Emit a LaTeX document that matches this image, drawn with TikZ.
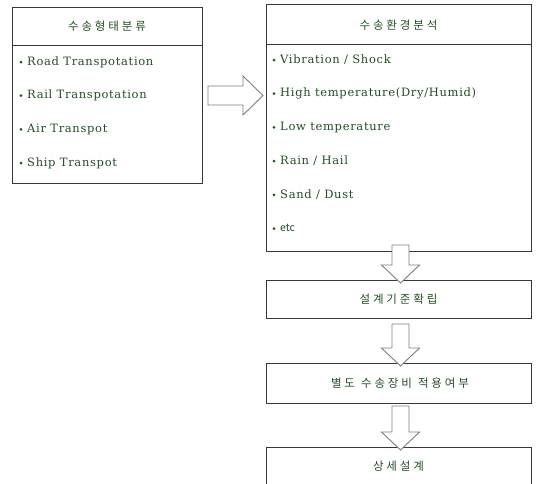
\documentclass[tikz,border=0pt]{standalone}
\usepackage{fontspec}
\setmainfont[LetterSpace=6]{DejaVu Serif}
\newfontfamily\kr[LetterSpace=25]{Noto Sans CJK KR}
\newfontfamily\krplain{Noto Sans CJK KR}
\usetikzlibrary{calc}
\definecolor{txtgreen}{RGB}{36,78,36}
\definecolor{arrowgray}{RGB}{125,125,125}
\definecolor{boxline}{RGB}{55,55,55}
\newcommand\blockdown[3]{% source, target, top offset (px, + = down from source bottom)
  \draw[blockarrow] let \p1=($(#1.south)+(1.5,#3)$), \p2=($(#2.north)+(1.5,3)$) in
    (\x1-8.5pt,\y1) -- (\x1-8.5pt,\y2+18pt) -- (\x1-19pt,\y2+18pt) -- (\x2,\y2)
    -- (\x1+19pt,\y2+18pt) -- (\x1+8.5pt,\y2+18pt) -- (\x1+8.5pt,\y1) -- cycle;}
\begin{document}
\begin{tikzpicture}[x=1pt,y=-1pt,
  box/.style={draw=boxline,line width=1pt,fill=white,rectangle,anchor=north west,inner sep=0pt},
  item/.style={anchor=west,inner sep=0pt,text=txtgreen,text height=8.5pt,text depth=2pt,font=\fontsize{11.5}{13}\selectfont},
  title/.style={inner sep=0pt,text=txtgreen,font=\kr\fontsize{11.5}{13}\selectfont},
  blockarrow/.style={draw=arrowgray,line width=0.9pt,fill=white,line join=miter},
  dot/.style={circle,fill=txtgreen,inner sep=0pt,minimum size=3pt}]
\useasboundingbox (0,0) rectangle (538,483);
\clip (0,0) rectangle (538,483);
\fill[white] (0,0) rectangle (538,483);

% left box
\node[box,minimum width=190pt,minimum height=176pt] (L) at (12,7) {};
\draw[boxline,line width=1pt] ($(L.north west)+(0,38)$) coordinate (Lh1) -- ($(L.north east)+(0,38)$) coordinate (Lh2);
\node[title] (Lt) at (107,26) {수송형태분류};
\foreach \t [count=\i] in {Road Transpotation,Rail Transpotation,Air Transpot,Ship Transpot}{
  \node[dot] (Ld\i) at (21,{62+33.7*(\i-1)}) {};
  \node[item] (Li\i) at (27,{62+33.7*(\i-1)}) {\t};
}

% main right box
\node[box,minimum width=265pt,minimum height=247pt] (M) at (266,4) {};
\draw[boxline,line width=1pt] ($(M.north west)+(0,40)$) coordinate (Mh1) -- ($(M.north east)+(0,40)$) coordinate (Mh2);
\node[title] (Mt) at (398.5,25) {수송환경분석};
\foreach \t [count=\i] in {Vibration / Shock,High temperature(Dry/Humid),Low temperature,Rain / Hail,Sand / Dust}{
  \node[dot] (Md\i) at (274,{60+33.7*(\i-1)}) {};
  \node[item] (Mi\i) at (280,{60+33.7*(\i-1)}) {\t};
}
\node[dot] (Md6) at (274,228.5) {};
\node[item,font=\krplain\fontsize{10.5}{11}\selectfont] (Mi6) at (280,228.5) {etc};

% process boxes
\node[box,minimum width=265pt,minimum height=38pt] (B2) at (266,280) {};
\node[title] (B2t) at (398.5,299) {설계기준확립};
\node[box,minimum width=265pt,minimum height=40pt] (B3) at (266,363) {};
\node[title] (B3t) at (400,383.5) {별도\hspace{6pt}수송장비\hspace{6pt}적용여부};
\node[box,minimum width=265pt,minimum height=60pt] (B4) at (266,447) {};
\node[title] (B4t) at (398.5,466) {상세설계};

% right block arrow
\draw[blockarrow] let \p1=($(L.east)+(5,0)$), \p2=($(M.west)+(-3,0)$) in
  (\x1,\y1+9.5pt) -- (\x2-20pt,\y1+9.5pt) -- (\x2-20pt,\y1+19.5pt) -- (\x2,\y1)
  -- (\x2-20pt,\y1-19.5pt) -- (\x2-20pt,\y1-9.5pt) -- (\x1,\y1-9.5pt) -- cycle;

% down block arrows
\blockdown{M}{B2}{-7}
\blockdown{B2}{B3}{5}
\blockdown{B3}{B4}{2}
\end{tikzpicture}
\end{document}
